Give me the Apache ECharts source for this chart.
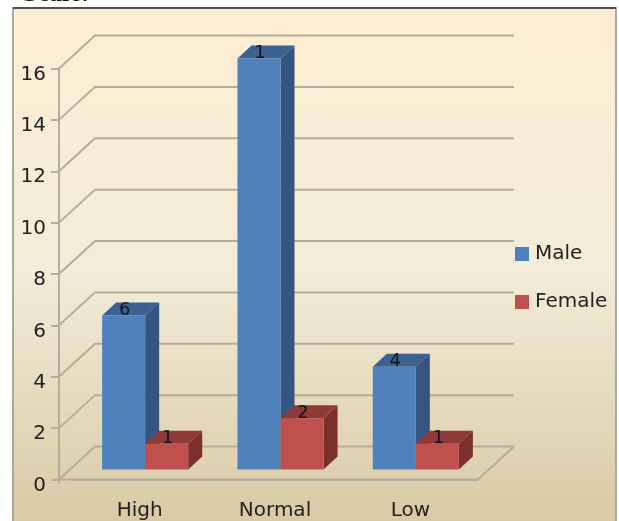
<!DOCTYPE html>
<html>
<head>
<meta charset="utf-8">
<style>html,body{margin:0;padding:0;background:#fff;overflow:hidden}#chart{width:619px;height:521px}</style>
<script src="https://cdn.jsdelivr.net/npm/echarts@6/dist/echarts.min.js"></script>
</head>
<body>
<div id="chart"></div>
<script>
// Grouped counts by level and sex, drawn as boxes standing on a floor
const categories = ['High', 'Normal', 'Low'];
const maleValues = [6, 16, 4];
const femaleValues = [1, 2, 1];
const maleLabels = ['6', '1', '4'];
const femaleLabels = ['1', '2', '1'];
const yTicks = [0, 2, 4, 6, 8, 10, 12, 14, 16];

const FONT = '"DejaVu Sans"';
const GRID = { left: 72, right: 141, top: 68.5, bottom: 41.5 };
const WALL = { dx: 36, dy: -33, x0: 59, xFront: 478, xBack: 514 };
const BAR = { ratio: 0.318, depthX: 14, depthY: 13, shiftX: 5.5, shiftY: -10 };
const LINE = '#b3ad9c';

const chart = echarts.init(document.getElementById('chart'));

// Gridlines on the side and back walls, one per tick value
function renderWall(params, api) {
  const v = api.value(0);
  const y = api.coord([0, v])[1];
  const children = [{
    type: 'polyline',
    shape: { points: [[WALL.x0, y], [WALL.x0 + WALL.dx, y + WALL.dy], [WALL.xBack, y + WALL.dy]] },
    style: { stroke: LINE, lineWidth: 2, fill: null }
  }];
  if (v === 0) {
    children.push({
      type: 'polyline',
      shape: { points: [[WALL.xBack, y + WALL.dy], [WALL.xFront, y], [WALL.x0 - 4, y]] },
      style: { stroke: LINE, lineWidth: 2, fill: null }
    });
    children.push({
      type: 'line',
      shape: { x1: WALL.x0, y1: y - 4, x2: WALL.x0, y2: y + 4 },
      style: { stroke: LINE, lineWidth: 2 }
    });
  }
  return { type: 'group', children };
}

// A box with front, top and side faces, plus its value label on the top face
function boxRenderer(side, front, top, sideFace, labels) {
  return function (params, api) {
    const cat = api.value(0);
    const base = api.coord([cat, 0]);
    const head = api.coord([cat, api.value(1)]);
    const w = api.size([1, 0])[0] * BAR.ratio;
    const x0 = base[0] + BAR.shiftX + (side < 0 ? -w : 0);
    const x1 = x0 + w;
    const yb = base[1] + BAR.shiftY;
    const yt = head[1] + BAR.shiftY;
    const dx = BAR.depthX, dy = BAR.depthY;
    return {
      type: 'group',
      children: [
        { type: 'polygon', shape: { points: [[x1, yb], [x1 + dx, yb - dy], [x1 + dx, yt - dy], [x1, yt]] }, style: { fill: sideFace } },
        { type: 'polygon', shape: { points: [[x0, yt], [x0 + dx, yt - dy], [x1 + dx, yt - dy], [x1, yt]] }, style: { fill: top } },
        { type: 'rect', shape: { x: x0, y: yt, width: w, height: yb - yt }, style: { fill: front } },
        { type: 'text', style: {
            x: (x0 + x1) / 2 + 1, y: yt - dy + 8, text: labels[cat],
            fill: '#14141e', font: '18px ' + FONT, align: 'center', verticalAlign: 'middle'
        } }
      ]
    };
  };
}

chart.setOption({
  animation: false,
  backgroundColor: '#ffffff',
  graphic: [
    { type: 'rect', z: -10, shape: { x: 13, y: 8, width: 603, height: 520 },
      style: {
        stroke: '#a9a9a3', lineWidth: 2,
        fill: { type: 'linear', x: 0, y: 0, x2: 0, y2: 1, colorStops: [
          { offset: 0, color: '#fdeed2' },
          { offset: 0.5, color: '#f3ecd8' },
          { offset: 1, color: '#d8c9a3' }
        ] }
      } },
    { type: 'line', z: -9, shape: { x1: 13, y1: 8, x2: 616, y2: 8 }, style: { stroke: '#4e4e4a', lineWidth: 2 } },
    { type: 'text', z: -9, style: { x: 23, y: 7, text: 'Scale:', fill: '#111', font: 'bold 26px "Liberation Serif"', verticalAlign: 'bottom' } }
  ],
  grid: GRID,
  legend: {
    orient: 'vertical', left: 515, top: 244, padding: 0, icon: 'rect',
    itemWidth: 14, itemHeight: 14, itemGap: 28, selectedMode: false,
    data: ['Male', 'Female'],
    textStyle: { fontFamily: FONT, fontSize: 20, color: '#222', padding: [0, 0, 5, 1] }
  },
  xAxis: {
    type: 'category', data: categories,
    axisLine: { lineStyle: { color: LINE, width: 2 } },
    axisTick: { length: 4, lineStyle: { color: LINE, width: 2 } },
    axisLabel: { fontFamily: FONT, fontSize: 20, color: '#222', margin: 21 },
    splitLine: { show: false }
  },
  yAxis: {
    type: 'value', min: 0, max: 16, interval: 2, offset: 13,
    axisLine: { show: true, lineStyle: { color: LINE, width: 2 } },
    axisTick: { show: true, length: 8, lineStyle: { color: LINE, width: 2 } },
    axisLabel: { fontFamily: FONT, fontSize: 20, color: '#222', margin: 13, lineHeight: 20, verticalAlign: 'top', padding: [-4, 0, 0, 0] },
    splitLine: { show: false }
  },
  series: [
    { type: 'custom', name: 'Walls', data: yTicks.map(v => [v]), renderItem: renderWall, silent: true, z: 1,
      encode: { y: 0 } },
    { type: 'custom', name: 'Male', itemStyle: { color: '#4f81bd' }, z: 2,
      data: maleValues.map((v, i) => [i, v]), encode: { x: 0, y: 1 },
      renderItem: boxRenderer(-1, '#4f81bd', '#3a6190', '#34557f', maleLabels) },
    { type: 'custom', name: 'Female', itemStyle: { color: '#c0504d' }, z: 3,
      data: femaleValues.map((v, i) => [i, v]), encode: { x: 0, y: 1 },
      renderItem: boxRenderer(1, '#c0504d', '#8e3a38', '#7b302e', femaleLabels) }
  ]
});
</script>
</body>
</html>
